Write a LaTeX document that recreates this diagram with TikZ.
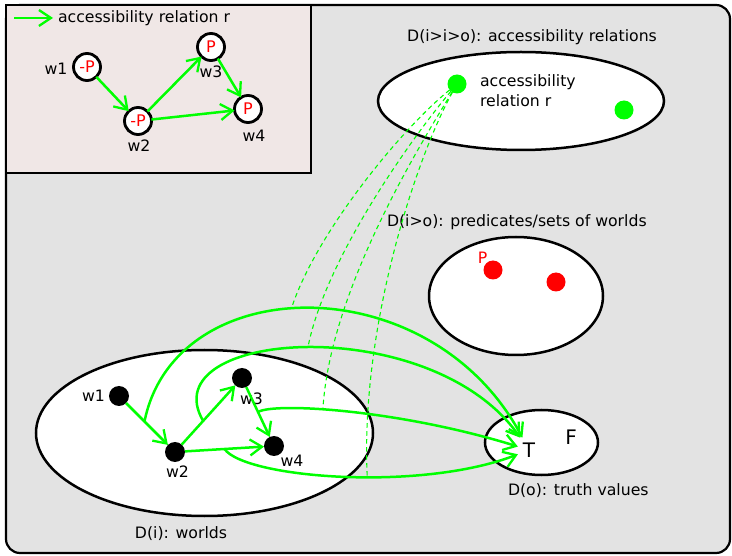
\documentclass[tikz,border=0pt]{standalone}
\usepackage{fontspec}
\setmainfont{DejaVu Sans}
\usetikzlibrary{arrows.meta,shapes.geometric}
\definecolor{panel}{RGB}{227,227,227}
\definecolor{legendfill}{RGB}{240,231,230}
\definecolor{lime}{RGB}{0,255,0}
\definecolor{pred}{RGB}{255,0,0}
\begin{document}
\begin{tikzpicture}[x=1pt,y=-1pt,
  font=\fontsize{15.7}{19}\selectfont,
  every node/.style={inner sep=0pt,outer sep=0pt},
  tipstyle/.style={-{Straight Barb[length=12pt,width=16pt,line width=2.3pt]}},
  acc/.style={draw=lime,line width=2.5pt,tipstyle},
  rel/.style={draw=lime,line width=1.1pt,dash pattern=on 4.5pt off 3.5pt},
  set/.style={ellipse,draw=black,fill=white,line width=2.5pt},
  world/.style={circle,fill=black,minimum size=20pt},
  lworld/.style={circle,draw=black,fill=white,line width=2.8pt,minimum size=27pt,text=pred,font=\fontsize{16}{19}\selectfont},
  gdot/.style={circle,fill=lime,minimum size=19pt},
  rdot/.style={circle,fill=pred,minimum size=19pt},
  txt/.style={anchor=base},
  txtl/.style={anchor=base west},
  big/.style={font=\fontsize{20}{24}\selectfont,inner sep=5pt},
]
\useasboundingbox (0,0) rectangle (732,556);
% frame and legend
\node[draw=black,fill=panel,line width=2.2pt,rounded corners=14pt,minimum width=724,minimum height=548] (frame) at (368,279) {};
\node[draw=black,fill=legendfill,line width=2.2pt,minimum width=305,minimum height=168] (legend) at (158.5,89) {};
\coordinate (k1) at (14,18);
\coordinate (k2) at (53,18);
\draw[acc] (k1) -- (k2);
\node[txtl] (ktext) at (58,23) {accessibility relation r};
\node[lworld] (L1) at (87,67) {-P};
\node[lworld] (L2) at (138,121) {-P};
\node[lworld] (L3) at (211,47) {P};
\node[lworld] (L4) at (248,109) {P};
\node[txt] (L1n) at (56,75) {w1};
\node[txt] (L2n) at (139,152) {w2};
\node[txt] (L3n) at (211,78) {w3};
\node[txt] (L4n) at (254,142) {w4};
\draw[acc] (L1) -- (L2);
\draw[acc] (L2) -- (L3);
\draw[acc] (L2) -- (L4);
\draw[acc] (L3) -- (L4);
% accessibility relations
\node[set,minimum width=286,minimum height=98] (Rset) at (521,101) {};
\node[txt] (Rlab) at (532,41.7) {D(i>i>o): accessibility relations};
\node[gdot] (r1) at (457,84) {};
\node[gdot] (r2) at (624,110) {};
\node[txtl] (rt1) at (480,86.7) {accessibility};
\node[txtl] (rt2) at (480,107) {relation r};
% predicates
\node[set,minimum width=174,minimum height=118] (Pset) at (516,296) {};
\node[txtl] (Plab) at (387,226.7) {D(i>o): predicates/sets of worlds};
\node[rdot] (p1) at (493,270) {};
\node[rdot] (p2) at (556,282) {};
\node[txt,text=pred] (pname) at (482.5,264) {P};
% worlds
\node[set,minimum width=337,minimum height=166] (Wset) at (204.5,433) {};
\node[txt] (Wlab) at (181,538) {D(i): worlds};
\node[world] (w1) at (119,396) {};
\node[world] (w2) at (175,452) {};
\node[world] (w3) at (242,378) {};
\node[world] (w4) at (274,446) {};
\node[txt] (w1n) at (93.5,402) {w1};
\node[txt] (w2n) at (177.5,478) {w2};
\node[txt] (w3n) at (251.5,405) {w3};
\node[txt] (w4n) at (292,467) {w4};
% truth values
\node[set,minimum width=113,minimum height=65] (Tset) at (541.5,442.5) {};
\node[txtl] (Tlab) at (508,496) {D(o): truth values};
\node[big] (T) at (529,450) {T};
\node[big] (F) at (571,437) {F};
% relations between worlds
\draw[acc] (w1) -- coordinate[pos=0.44] (m12) (w2);
\draw[acc] (w2) -- coordinate[pos=0.40] (m23) (w3);
\draw[acc] (w3) -- coordinate[pos=0.50] (m34) (w4);
\draw[acc] (w2) -- coordinate[pos=0.50] (m24) (w4);
% each relation pair mapped to T
\draw[acc] (m12) .. controls (175,270) and (430,265) .. coordinate[pos=0.46] (d1) (T);
\draw[acc] (m23) .. controls (150,330) and (430,310) .. coordinate[pos=0.50] (d2) (T);
\draw[acc] (m34) .. controls (275,402) and (400,410) .. coordinate[pos=0.40] (d3) (T);
\draw[acc] (m24) .. controls (245,478) and (420,492) .. coordinate[pos=0.57] (d4) (T);
% dashed links from relation r
\draw[rel] (r1) .. controls (400,130) and (315,235) .. (d1);
\draw[rel] (r1) .. controls (410,140) and (325,260) .. (d2);
\draw[rel] (r1) .. controls (420,145) and (330,290) .. (d3);
\draw[rel] (r1) .. controls (415,160) and (360,330) .. (d4);
\end{tikzpicture}
\end{document}
